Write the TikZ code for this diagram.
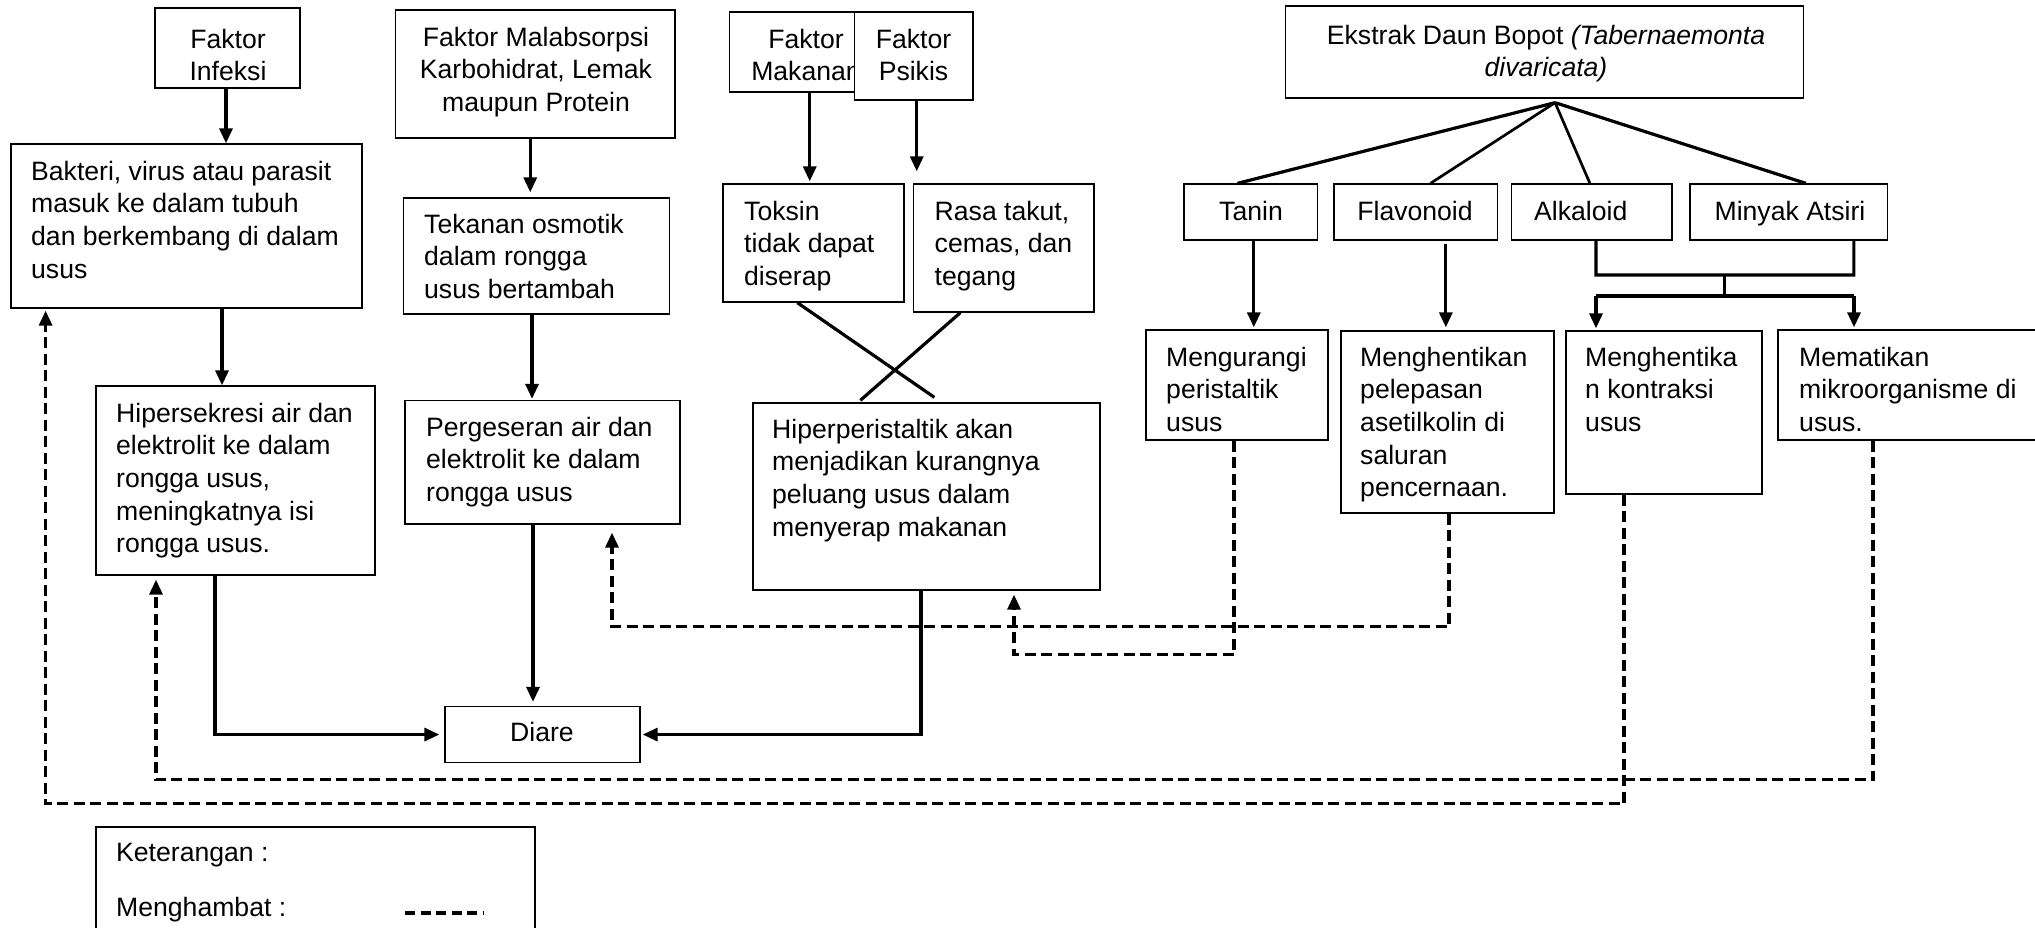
\documentclass[tikz,border=0pt]{standalone}
\usepackage{fontspec}
\setmainfont{Liberation Sans}
\usetikzlibrary{arrows.meta,fit,calc}
\newcommand\dfont{\fontsize{26.6bp}{32.7bp}\selectfont}
\begin{document}
\begin{tikzpicture}[x=1bp,y=-1bp,
  box/.style={draw, line width=1.3bp, inner sep=0pt, fill=white},
  txt/.style={inner sep=0pt, anchor=north west, yshift=22.9bp, align=left, font=\dfont},
  ctxt/.style={inner sep=0pt, anchor=north, yshift=22.9bp, align=center, font=\dfont},
  ln/.style={line width=3.2bp},
  arr/.style={line width=3.2bp, -{Triangle[length=15bp,width=13bp]}},
  dsh/.style={line width=3.2bp, dash pattern=on 11bp off 5.5bp},
  darr/.style={dsh, -{Triangle[length=15bp,width=13bp]}}]
\useasboundingbox (0,0) rectangle (2035,928);
\fill[white] (0,0) rectangle (2035,928);
\clip (0,0) rectangle (2035,928);

% ---------- boxes and texts ----------
\node[box, fit={(155,8) (300,88)}] (infeksi) {};
\node[ctxt] (tinfeksi) at (228,48) {\strut Faktor\\Infeksi};

\node[box, fit={(11,144) (362,308)}] (bakteri) {};
\node[txt] (tbakteri) at (31,180) {\strut Bakteri, virus atau parasit\\masuk ke dalam tubuh\\dan berkembang di dalam\\usus};

\node[box, fit={(395.5,10) (675,138)}] (malab) {};
\node[ctxt] (tmalab) at (536,46) {\strut Faktor Malabsorpsi\\Karbohidrat, Lemak\\maupun Protein};

\node[box, fit={(403.5,198) (669.6,314)}] (tekanan) {};
\node[txt] (ttekanan) at (424,233) {\strut Tekanan osmotik\\dalam rongga\\usus bertambah};

\node[box, fit={(729.5,12) (882,92)}] (makanan) {};
\node[ctxt] (tmakanan) at (806,48) {\strut Faktor\\Makanan};
\node[box, fit={(854.5,12) (973,100)}] (psikis) {};
\node[ctxt] (tpsikis) at (913.5,48) {\strut Faktor\\Psikis};

\node[box, fit={(723,184) (904,302)}] (toksin) {};
\node[txt] (ttoksin) at (744,220) {\strut Toksin\\tidak dapat\\diserap};

\node[box, fit={(913.5,184) (1094,312)}] (rasa) {};
\node[txt] (trasa) at (934.5,220) {\strut Rasa takut,\\cemas, dan\\tegang};

\node[box, fit={(96,386) (375,575)}] (hiper) {};
\node[txt] (thiper) at (116,422) {\strut Hipersekresi air dan\\elektrolit ke dalam\\rongga usus,\\meningkatnya isi\\rongga usus.};

\node[box, fit={(405,400.5) (680,524)}] (perg) {};
\node[txt] (tperg) at (426,436) {\strut Pergeseran air dan\\elektrolit ke dalam\\rongga usus};

\node[box, fit={(753,403) (1100,590)}] (hperi) {};
\node[txt] (thperi) at (772,438) {\strut Hiperperistaltik akan\\menjadikan kurangnya\\peluang usus dalam\\menyerap makanan};

\node[box, fit={(445,706.5) (640,762.6)}] (diare) {};
\node[ctxt] (tdiare) at (542,741) {\strut Diare};

\node[box, fit={(1285.5,6) (1803.6,98)}] (ekstrak) {};
\node[ctxt] (tekstrak) at (1546,44) {\strut Ekstrak Daun Bopot \textit{(Tabernaemonta}\\\textit{divaricata)}};

\node[box, fit={(1184,184) (1317.6,240)}] (tanin) {};
\node[ctxt] (ttanin) at (1251,220) {\strut Tanin};
\node[box, fit={(1334,184) (1497.7,240)}] (flav) {};
\node[ctxt] (tflav) at (1415,220) {\strut Flavonoid};
\node[box, fit={(1511.8,184) (1672,240)}] (alk) {};
\node[txt] (talk) at (1534,220) {\strut Alkaloid};
\node[box, fit={(1690,184) (1887.7,240)}] (minyak) {};
\node[ctxt] (tminyak) at (1790,220) {\strut Minyak Atsiri};

\node[box, fit={(1146,330) (1328,440)}] (kurang) {};
\node[txt] (tkurang) at (1166,366) {\strut Mengurangi\\peristaltik\\usus};
\node[box, fit={(1341,331) (1554,513)}] (henti) {};
\node[txt] (thenti) at (1360,366) {\strut Menghentikan\\pelepasan\\asetilkolin di\\saluran\\pencernaan.};
\node[box, fit={(1566,331) (1762,494)}] (hentika) {};
\node[txt] (thentika) at (1585,366) {\strut Menghentika\\n kontraksi\\usus};
\node[box, fit={(1778,330) (2040,440)}] (mati) {};
\node[txt] (tmati) at (1799,366) {\strut Mematikan\\mikroorganisme di\\usus.};

\node[box, fit={(96,827) (535,945)}] (ket) {};
\node[txt] (tket1) at (116,861) {\strut Keterangan :};
\node[txt] (tket2) at (116,916) {\strut Menghambat :};
\coordinate (l1) at (405,913);
\coordinate (l2) at (483,913);
\draw[dsh, dash pattern=on 10bp off 5.5bp] (l1) -- (l2);

% ---------- solid connectors ----------
\draw[arr] ($(infeksi.south)+(-1.5,0)$) -- ($(infeksi.south |- bakteri.north)+(-1.5,0)$);
\draw[arr, shorten >=5bp] ($(malab.south)+(-5,0)$) -- ($(malab.south |- tekanan.north)+(-5,0)$);
\draw[arr, shorten >=2bp] ($(makanan.south)+(4,0)$) -- ($(makanan.south |- toksin.north)+(4,0)$);
\draw[arr, shorten >=12bp] ($(psikis.south)+(3,0)$) -- ($(psikis.south |- rasa.north)+(3,0)$);
\draw[arr] ($(bakteri.south)+(35.5,0)$) -- ($(bakteri.south |- hiper.north)+(35.5,0)$);
\draw[arr, shorten >=1bp] ($(tekanan.south)+(-4.5,0)$) -- ($(tekanan.south |- perg.north)+(-4.5,0)$);

\draw[ln] ($(toksin.south west)+(75,0)$) -- ($(hperi.north west)+(182,-5)$);
\draw[ln] ($(rasa.south west)+(47.5,0)$) -- ($(hperi.north west)+(108,-2)$);

\draw[arr, shorten >=5bp] ($(hiper.south)+(-20.5,0)$) |- (diare.west);
\draw[arr, shorten >=4bp] ($(perg.south)+(-9.5,0)$) -- ($(perg.south |- diare.north)+(-9.5,0)$);
\draw[arr, shorten >=2bp] ($(hperi.south)+(-5.5,0)$) |- (diare.east);

\coordinate (apex) at ($(ekstrak.south)+(10.5,4)$);
\draw[ln] (apex) -- ($(tanin.north)+(-13.3,0)$);
\draw[line width=2.7bp] (apex) -- ($(flav.north)+(14.6,0)$);
\draw[line width=2.7bp] (apex) -- ($(alk.north)+(-2,0)$);
\draw[ln] (apex) -- ($(minyak.north)+(17,0)$);

\draw[arr, shorten >=2bp] ($(tanin.south)+(3,0)$) -- ($(tanin.south |- kurang.north)+(3,0)$);
\draw[arr, shorten >=3bp] ($(flav.south)+(30,3)$) -- ($(flav.south |- henti.north)+(30,0)$);

\coordinate (j0) at (1596,275);
\coordinate (j1) at (1596,296);
\coordinate (j2) at (1854,296);
\coordinate (jc) at (1724.6,275);
\draw[ln] ($(alk.south)+(4,0)$) -- (j0) -| ($(minyak.south)+(65,0)$);
\draw[ln] (jc) -- (jc |- j1);
\draw[ln] (j1) -- (j2);
\draw[arr, shorten >=2bp] (j1) -- (j1 |- hentika.north);
\draw[arr, shorten >=2bp] (j2) -- (j2 |- mati.north);

% ---------- dashed (inhibition) connectors ----------
\draw[darr, shorten >=4bp] ($(kurang.south)+(-3,0)$) -- ++(0,214) -| ($(hperi.south)+(87.5,0)$);
\draw[darr, shorten >=8bp] ($(henti.south)+(1.5,0)$) -- ++(0,113) -| ($(perg.south)+(69.5,0)$);
\draw[darr, shorten >=2bp] ($(hentika.south)+(-40,0)$) -- ++(0,309) -| ($(bakteri.south)+(-140.9,0)$);
\draw[darr, shorten >=4bp] ($(mati.south)+(-36,0)$) -- ++(0,339) -| ($(hiper.south)+(-79.5,0)$);
\end{tikzpicture}
\end{document}
